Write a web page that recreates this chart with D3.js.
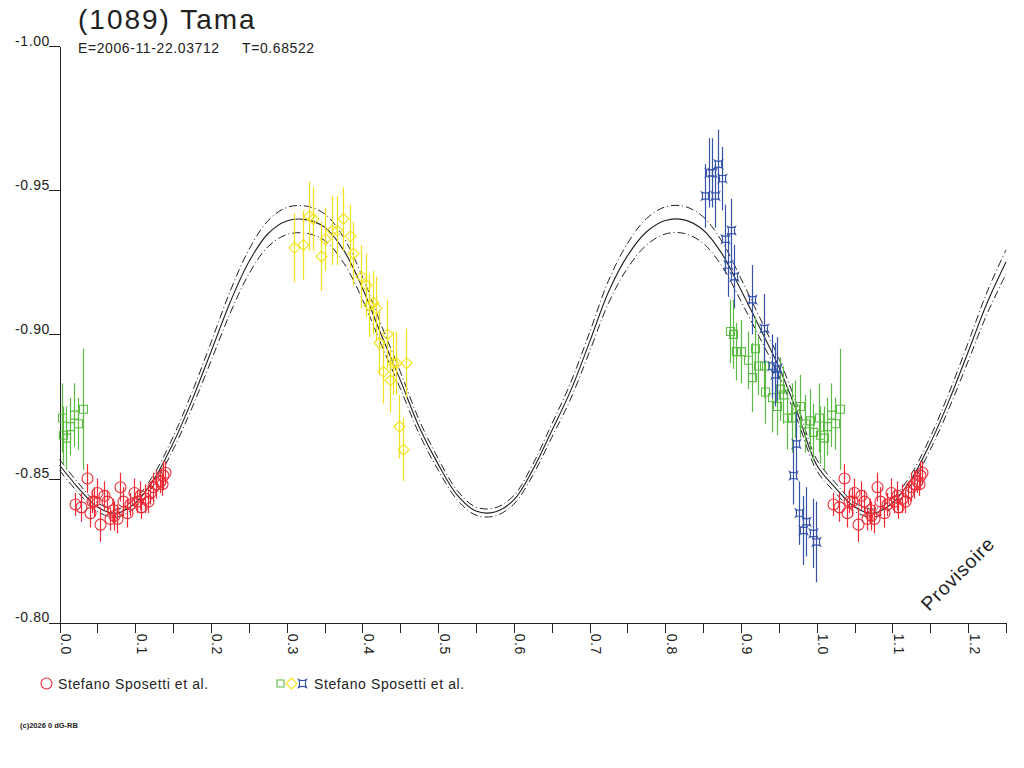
<!DOCTYPE html>
<html>
<head>
<meta charset="utf-8">
<script src="https://cdn.jsdelivr.net/npm/d3@7"></script>
<style>
  body { margin: 0; background: #fff; }
  text { font-family: "Liberation Sans", Arial, sans-serif; fill: #222; }
</style>
</head>
<body>
<script>
var title_text = "(1089) Tama";
var epoch_text = "E=2006-11-22.03712";
var period_text = "T=0.68522";
var legend_labels = ["Stefano Sposetti et al.", "Stefano Sposetti et al."];
var copyright_text = "(c)2026 0 dG-RB";
var stamp_text = "Provisoire";

var x_ticks = [0.0, 0.1, 0.2, 0.3, 0.4, 0.5, 0.6, 0.7, 0.8, 0.9, 1.0, 1.1, 1.2];
var x_tick_labels = ["0.0", "0.1", "0.2", "0.3", "0.4", "0.5", "0.6", "0.7", "0.8", "0.9", "1.0", "1.1", "1.2"];
var x_minor_ticks = [0.05, 0.15, 0.25, 0.35, 0.45, 0.55, 0.65, 0.75, 0.85, 0.95, 1.05, 1.15, 1.25];
var y_ticks = [-1.00, -0.95, -0.90, -0.85, -0.80];
var y_tick_labels = ["-1.00", "-0.95", "-0.90", "-0.85", "-0.80"];

var curve_phase = [0.000, 0.025, 0.050, 0.075, 0.100, 0.125, 0.150, 0.175, 0.200, 0.225,
                   0.250, 0.275, 0.300, 0.325, 0.350, 0.375, 0.400, 0.425, 0.450, 0.475,
                   0.500, 0.525, 0.550, 0.575, 0.600, 0.625, 0.650, 0.675, 0.700, 0.725,
                   0.750, 0.775, 0.800, 0.825, 0.850, 0.875, 0.900, 0.925, 0.950, 0.975, 1.000];
var curve_mag = [-0.8547, -0.8467, -0.8401, -0.8380, -0.8415, -0.8498, -0.8622, -0.8772, -0.8939, -0.9109,
                 -0.9251, -0.9348, -0.9393, -0.9398, -0.9372, -0.9293, -0.9161, -0.8998, -0.8842, -0.8679,
                 -0.8550, -0.8443, -0.8387, -0.8384, -0.8426, -0.8530, -0.8665, -0.8804, -0.8973, -0.9147,
                 -0.9272, -0.9355, -0.9395, -0.9397, -0.9362, -0.9279, -0.9154, -0.9022, -0.8887, -0.8724, -0.8547];
var curve_upper = [-0.8566, -0.8484, -0.8416, -0.8394, -0.8430, -0.8516, -0.8644, -0.8799, -0.8971, -0.9147,
                   -0.9293, -0.9393, -0.9440, -0.9445, -0.9418, -0.9337, -0.9200, -0.9032, -0.8871, -0.8703,
                   -0.8570, -0.8459, -0.8401, -0.8398, -0.8441, -0.8549, -0.8688, -0.8832, -0.9006, -0.9186,
                   -0.9315, -0.9401, -0.9442, -0.9444, -0.9408, -0.9322, -0.9193, -0.9057, -0.8917, -0.8749, -0.8566];
var curve_lower = [-0.8528, -0.8450, -0.8386, -0.8366, -0.8400, -0.8480, -0.8600, -0.8745, -0.8907, -0.9071,
                   -0.9209, -0.9303, -0.9346, -0.9351, -0.9326, -0.9249, -0.9122, -0.8964, -0.8813, -0.8655,
                   -0.8530, -0.8427, -0.8373, -0.8370, -0.8411, -0.8511, -0.8642, -0.8776, -0.8940, -0.9108,
                   -0.9229, -0.9309, -0.9348, -0.9350, -0.9316, -0.9236, -0.9115, -0.8987, -0.8857, -0.8699, -0.8528];

// session 1 (red circles)
var red_phase = [0.021, 0.029, 0.036, 0.040, 0.043, 0.046, 0.049, 0.054, 0.059, 0.063,
                 0.067, 0.070, 0.072, 0.076, 0.080, 0.084, 0.089, 0.093, 0.098, 0.102,
                 0.106, 0.108, 0.113, 0.117, 0.120, 0.124, 0.128, 0.133, 0.135, 0.137, 0.139];
var red_mag = [-0.841, -0.840, -0.850, -0.838, -0.842, -0.842, -0.845, -0.834, -0.844, -0.842,
               -0.836, -0.839, -0.837, -0.836, -0.847, -0.842, -0.838, -0.841, -0.845, -0.842,
               -0.844, -0.840, -0.843, -0.842, -0.845, -0.847, -0.848, -0.849, -0.848, -0.851, -0.852];
var red_err = [0.004, 0.005, 0.005, 0.005, 0.004, 0.005, 0.005, 0.006, 0.005, 0.004,
               0.004, 0.004, 0.005, 0.005, 0.005, 0.005, 0.005, 0.004, 0.005, 0.004,
               0.005, 0.004, 0.005, 0.004, 0.004, 0.005, 0.005, 0.004, 0.004, 0.005, 0.004];

// session 2 (green squares)
var green_phase = [0.003, 0.005, 0.009, 0.014, 0.019, 0.024, 0.031,
                   0.885, 0.889, 0.893, 0.900, 0.909, 0.914, 0.918, 0.923, 0.931, 0.932,
                   0.941, 0.947, 0.952, 0.956, 0.961, 0.967, 0.972, 0.978, 0.985, 0.991, 0.995];
var green_mag = [-0.871, -0.865, -0.864, -0.868, -0.872, -0.869, -0.874,
                 -0.901, -0.900, -0.894, -0.894, -0.891, -0.885, -0.895, -0.889, -0.889, -0.880,
                 -0.878, -0.875, -0.881, -0.879, -0.871, -0.871, -0.874, -0.875, -0.869, -0.870, -0.866];
var green_err = [0.012, 0.010, 0.011, 0.010, 0.011, 0.009, 0.021,
                 0.011, 0.012, 0.010, 0.011, 0.010, 0.012, 0.011, 0.010, 0.011, 0.011,
                 0.012, 0.010, 0.011, 0.010, 0.011, 0.012, 0.010, 0.011, 0.010, 0.011, 0.010];

// session 3 (yellow diamonds)
var yellow_phase = [0.310, 0.322, 0.329, 0.335, 0.345, 0.350, 0.360, 0.367, 0.374, 0.383,
                    0.388, 0.398, 0.405, 0.409, 0.414, 0.418, 0.422, 0.427, 0.432, 0.437,
                    0.441, 0.445, 0.449, 0.454, 0.457];
var yellow_mag = [-0.930, -0.931, -0.941, -0.940, -0.927, -0.933, -0.936, -0.936, -0.940, -0.934,
                  -0.928, -0.920, -0.917, -0.910, -0.911, -0.909, -0.897, -0.887, -0.900, -0.884,
                  -0.890, -0.890, -0.868, -0.860, -0.890];
var yellow_err = [0.012, 0.012, 0.012, 0.011, 0.012, 0.011, 0.012, 0.012, 0.011, 0.011,
                  0.011, 0.011, 0.011, 0.011, 0.011, 0.011, 0.011, 0.011, 0.012, 0.011,
                  0.011, 0.011, 0.011, 0.011, 0.012];

// session 4 (blue stars)
var blue_phase = [0.853, 0.858, 0.862, 0.866, 0.870, 0.875, 0.879, 0.883, 0.887, 0.891,
                  0.914, 0.931, 0.941, 0.945, 0.947, 0.969, 0.973, 0.977, 0.982, 0.986, 0.995, 0.999];
var blue_mag = [-0.948, -0.956, -0.956, -0.948, -0.959, -0.954, -0.933, -0.924, -0.936, -0.920,
                -0.912, -0.902, -0.889, -0.886, -0.888, -0.851, -0.862, -0.838, -0.832, -0.835, -0.831, -0.828];
var blue_err = [0.011, 0.012, 0.012, 0.011, 0.012, 0.011, 0.012, 0.011, 0.011, 0.011,
                0.012, 0.012, 0.011, 0.011, 0.011, 0.010, 0.011, 0.011, 0.012, 0.012, 0.012, 0.014];

var canvas_width = 1024;
var canvas_height = 768;
var phase_max = 1.25;

var svg = d3.select("body")
    .append("svg")
    .attr("width", canvas_width)
    .attr("height", canvas_height);

var x = d3.scaleLinear().domain([0, phase_max]).range([59.5, 1006]);
var y = d3.scaleLinear().domain([-1.00, -0.80]).range([46, 622.7]);

// axes
var xAxis = svg.append("g")
    .attr("transform", "translate(0," + y(-0.80) + ")")
    .call(d3.axisBottom(x).tickValues(x_ticks.concat(x_minor_ticks)).tickSize(10).tickSizeOuter(0).tickFormat(""));
xAxis.selectAll("line").attr("stroke", "#222").attr("shape-rendering", "crispEdges");
xAxis.select(".domain").attr("stroke", "#222").attr("shape-rendering", "crispEdges");

svg.selectAll(".xlabel")
    .data(x_ticks)
    .enter()
    .append("text")
    .attr("class", "xlabel")
    .attr("transform", function(d) { return "translate(" + (x(d) + 1.5) + "," + (y(-0.80) + 11) + ") rotate(90)"; })
    .attr("font-size", "14px")
    .style("letter-spacing", "0.6px")
    .text(function(d, i) { return x_tick_labels[i]; });

var yAxis = svg.append("g")
    .attr("transform", "translate(" + x(0) + ",0)")
    .call(d3.axisLeft(y).tickValues(y_ticks).tickSize(10.5).tickSizeOuter(0)
          .tickFormat(function(d, i) { return y_tick_labels[i]; }));
yAxis.selectAll("line").attr("stroke", "#222").attr("shape-rendering", "crispEdges");
yAxis.select(".domain").attr("stroke", "#222").attr("shape-rendering", "crispEdges");
yAxis.selectAll("text")
    .attr("x", -9.5)
    .attr("dy", "-1")
    .attr("font-size", "14px")
    .attr("font-family", null)
    .style("letter-spacing", "0.6px")
    .attr("fill", "#222");

// curves, repeated past phase 1
function wrapCurve(mags) {
  var pts = curve_phase.map(function(p, i) { return [p, mags[i]]; });
  curve_phase.forEach(function(p, i) {
    if (p > 0 && p + 1 <= phase_max) pts.push([p + 1, mags[i]]);
  });
  return pts;
}
var line = d3.line()
    .x(function(d) { return x(d[0]); })
    .y(function(d) { return y(d[1]); })
    .curve(d3.curveCatmullRom);

svg.append("path").attr("d", line(wrapCurve(curve_upper)))
    .attr("fill", "none").attr("stroke", "#222").attr("stroke-width", 1).attr("stroke-dasharray", "8,3,1,3");
svg.append("path").attr("d", line(wrapCurve(curve_lower)))
    .attr("fill", "none").attr("stroke", "#222").attr("stroke-width", 1).attr("stroke-dasharray", "8,3,1,3");
svg.append("path").attr("d", line(wrapCurve(curve_mag)))
    .attr("fill", "none").attr("stroke", "#222").attr("stroke-width", 1.1);

// marker shapes
var circle_path = d3.symbol().type(d3.symbolCircle).size(95)();
var square_path = "M-4,-4L4,-4L4,4L-4,4Z";
var diamond_path = "M0,-5.5L5.5,0L0,5.5L-5.5,0Z";
var star_path = "M-4,-4Q0,-1.8 4,-4Q1.8,0 4,4Q0,1.8 -4,4Q-1.8,0 -4,-4Z";

function drawSeries(phases, mags, errs, color, shape) {
  var pts = [];
  phases.forEach(function(p, i) {
    pts.push({p: p, m: mags[i], e: errs[i]});
    if (p + 1 <= phase_max) pts.push({p: p + 1, m: mags[i], e: errs[i]});
  });
  var g = svg.append("g");
  g.selectAll("line")
    .data(pts)
    .enter()
    .append("line")
    .attr("x1", function(d) { return Math.round(x(d.p)) + 0.5; })
    .attr("x2", function(d) { return Math.round(x(d.p)) + 0.5; })
    .attr("y1", function(d) { return y(d.m - d.e); })
    .attr("y2", function(d) { return y(d.m + d.e); })
    .attr("stroke", color)
    .attr("stroke-width", 1.2);
  g.selectAll("path")
    .data(pts)
    .enter()
    .append("path")
    .attr("d", shape)
    .attr("transform", function(d) { return "translate(" + (Math.round(x(d.p)) + 0.5) + "," + y(d.m) + ")"; })
    .attr("fill", "none")
    .attr("stroke", color)
    .attr("stroke-width", 1.1);
}

drawSeries(green_phase, green_mag, green_err, "#5dbb45", square_path);
drawSeries(yellow_phase, yellow_mag, yellow_err, "#f2e21e", diamond_path);
drawSeries(blue_phase, blue_mag, blue_err, "#3552a8", star_path);
drawSeries(red_phase, red_mag, red_err, "#ee2a35", circle_path);

// titles
svg.append("text")
    .attr("x", 78)
    .attr("y", 29)
    .attr("font-size", "28px")
    .style("letter-spacing", "2px")
    .text(title_text);
svg.append("text")
    .attr("x", 78)
    .attr("y", 53)
    .attr("font-size", "14px")
    .style("letter-spacing", "0.6px")
    .text(epoch_text);
svg.append("text")
    .attr("x", 242)
    .attr("y", 53)
    .attr("font-size", "14px")
    .style("letter-spacing", "0.6px")
    .text(period_text);

// legend
svg.append("path").attr("d", circle_path).attr("transform", "translate(46.5,683.5)")
    .attr("fill", "none").attr("stroke", "#ee2a35").attr("stroke-width", 1.1);
svg.append("text")
    .attr("x", 58)
    .attr("y", 689)
    .attr("font-size", "14px")
    .style("letter-spacing", "0.6px")
    .text(legend_labels[0]);

svg.append("path").attr("d", "M-3.5,-3.5L3.5,-3.5L3.5,3.5L-3.5,3.5Z").attr("transform", "translate(280.5,683.5)")
    .attr("fill", "none").attr("stroke", "#5dbb45").attr("stroke-width", 1.1);
svg.append("path").attr("d", diamond_path).attr("transform", "translate(291.5,683.5)")
    .attr("fill", "none").attr("stroke", "#f2e21e").attr("stroke-width", 1.1);
svg.append("path").attr("d", star_path).attr("transform", "translate(302.5,683.5)")
    .attr("fill", "none").attr("stroke", "#3552a8").attr("stroke-width", 1.1);
svg.append("text")
    .attr("x", 314)
    .attr("y", 689)
    .attr("font-size", "14px")
    .style("letter-spacing", "0.6px")
    .text(legend_labels[1]);

// stamp and copyright
svg.append("text")
    .attr("transform", "translate(929,612) rotate(-45)")
    .attr("font-size", "19.5px")
    .style("letter-spacing", "0.8px")
    .text(stamp_text);

svg.append("text")
    .attr("x", 20)
    .attr("y", 728)
    .attr("font-size", "7.5px")
    .attr("font-weight", "bold")
    .text(copyright_text);
</script>
</body>
</html>
